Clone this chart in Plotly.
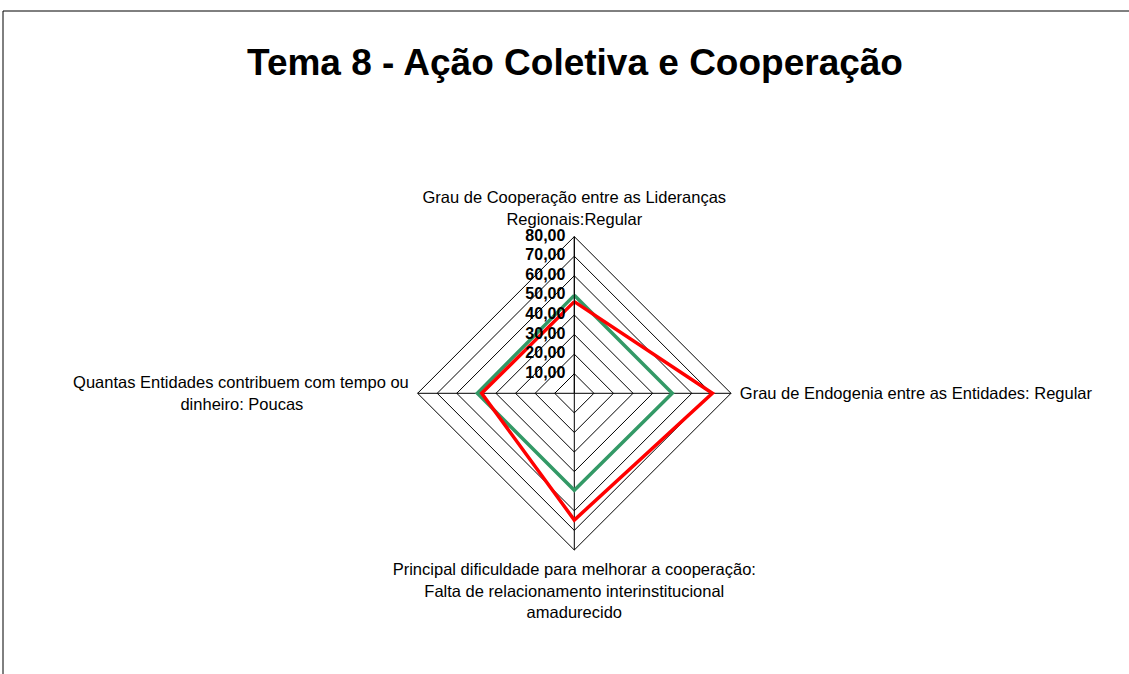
import plotly.graph_objects as go

NB = "\u00a0"
categories = [
    "Grau de Cooperação entre as Lideranças<br>Regionais:Regular",
    "Grau de Endogenia entre as Entidades: Regular",
    "Principal dificuldade para melhorar a cooperação:<br>Falta de relacionamento interinstitucional<br>amadurecido",
    "Quantas Entidades contribuem com tempo ou<br>dinheiro: Poucas" + NB * 23,
]
series_green = [50.0, 50.0, 49.5, 49.5]
series_red = [46.8, 70.5, 64.7, 47.3]
tick_values = [10, 20, 30, 40, 50, 60, 70, 80]

W, H = 1129, 674
cx, cy, R = 574.3, 393.3, 156.7

fig = go.Figure()
fig.add_trace(go.Scatterpolar(
    r=series_green + series_green[:1], theta=categories + categories[:1],
    mode="lines", line=dict(color="#339966", width=3.5), showlegend=False,
))
fig.add_trace(go.Scatterpolar(
    r=series_red + series_red[:1], theta=categories + categories[:1],
    mode="lines", line=dict(color="#FF0000", width=3.5), showlegend=False,
))
# radial tick labels, placed on the top spoke through the polar scale
fig.add_trace(go.Scatterpolar(
    r=tick_values, theta=[categories[0]] * len(tick_values),
    mode="text",
    texttemplate="<b>%{r:.2f}</b><span style='color:rgba(0,0,0,0)'>0</span>",
    textposition="middle left",
    textfont=dict(size=16, family="Liberation Sans, Arial, sans-serif", color="black"),
    showlegend=False, hoverinfo="skip", cliponaxis=False,
))

fig.update_layout(
    width=W, height=H,
    margin=dict(l=0, r=0, t=0, b=0),
    paper_bgcolor="white", plot_bgcolor="white",
    separators=",.",
    font=dict(family="Liberation Sans, Arial, sans-serif", size=16.5, color="black"),
    title=dict(
        text="<b>Tema 8 - Ação Coletiva e Cooperação</b>",
        x=575 / W, xanchor="center", y=1 - 62 / H, yanchor="middle",
        font=dict(size=37, family="Liberation Sans, Arial, sans-serif", color="black"),
    ),
    polar=dict(
        domain=dict(x=[(cx - R) / W, (cx + R) / W], y=[1 - (cy + R) / H, 1 - (cy - R) / H]),
        bgcolor="white",
        gridshape="linear",
        radialaxis=dict(
            range=[0, 80], tickvals=tick_values, showticklabels=False,
            angle=90, side="counterclockwise",
            showline=True, linecolor="black", linewidth=1,
            gridcolor="black", gridwidth=1, ticks="",
        ),
        angularaxis=dict(
            rotation=90, direction="clockwise",
            showline=True, linecolor="black", linewidth=1,
            gridcolor="black", gridwidth=1,
            ticks="outside", ticklen=5, tickcolor="rgba(0,0,0,0)",
            tickfont=dict(size=16.5, color="black"),
        ),
    ),
    shapes=[dict(
        type="rect", xref="paper", yref="paper",
        x0=3 / W, x1=1.01, y0=-0.01, y1=1 - 11 / H,
        line=dict(color="black", width=1), fillcolor="rgba(0,0,0,0)", layer="below",
    )],
)

fig.write_html(
    "out.html",
    config={"displayModeBar": False},
    post_script="document.body.style.margin='0';document.body.style.overflow='hidden';",
)
